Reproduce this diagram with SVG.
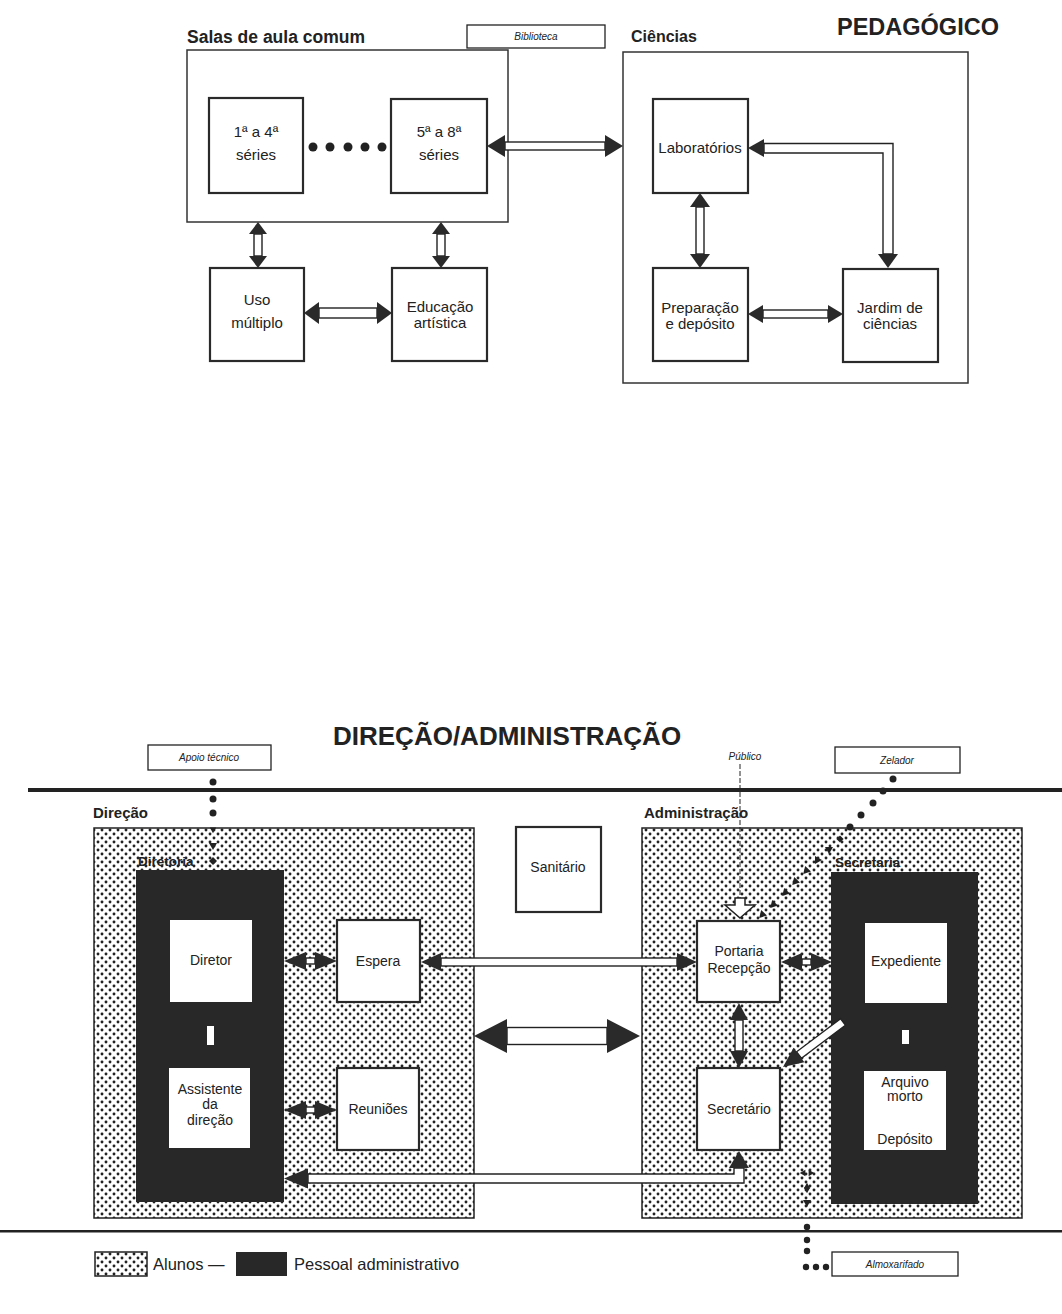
<svg xmlns="http://www.w3.org/2000/svg" width="1062" height="1314" viewBox="0 0 1062 1314">
<defs>
<pattern id="dots" width="8" height="8" patternUnits="userSpaceOnUse">
<rect width="8" height="8" fill="#fff"/>
<circle cx="2" cy="2" r="1.45" fill="#222"/>
<circle cx="6" cy="6" r="1.45" fill="#222"/>
</pattern>
<path id="tri" d="M-4,-3 L4,-3 L0,4 Z" fill="#222"/>
<path id="dia" d="M0,-4 L4,0 L0,4 L-4,0 Z" fill="#222"/>
</defs>
<style>
.t{font-family:"Liberation Sans",Arial,sans-serif;fill:#222}
.lb{font-size:15px;text-anchor:middle}
.lb2{font-size:14px;text-anchor:middle}
.hdr{font-weight:bold}
.it{font-style:italic;font-size:10px;text-anchor:middle}
.box{fill:#fff;stroke:#2a2a2a;stroke-width:2.2}
.wbox{fill:#fff}
.cont{fill:#fff;stroke:#333;stroke-width:1.5}
.dot{fill:url(#dots);stroke:#222;stroke-width:1.5}
.dark{fill:#282828}
.sh{fill:#fff;stroke:#222;stroke-width:1.4}
.hd{fill:#2a2a2a}
.tag{fill:#fff;stroke:#222;stroke-width:1.3}
.mk{fill:#222}
.ln{fill:#222}
</style>
<rect width="1062" height="1314" fill="#fff"/>

<!-- ===== PEDAGÓGICO ===== -->
<g id="titles-top">
<text x="837" y="35" class="t hdr" font-size="23.5">PEDAGÓGICO</text>
<text x="187" y="43" class="t hdr" font-size="17.5">Salas de aula comum</text>
<text x="631" y="42" class="t hdr" font-size="16">Ciências</text>
</g>
<g id="biblioteca">
<rect x="467" y="25" width="138" height="23" class="tag"/>
<text x="536" y="40" class="t it">Biblioteca</text>
</g>
<g id="salas-container"><rect x="187" y="50" width="321" height="172" class="cont"/></g>
<g id="ciencias-container"><rect x="623" y="52" width="345" height="331" class="cont"/></g>

<g id="serie-1-4">
<rect x="209" y="98" width="94" height="95" class="box"/>
<text x="256" y="137" class="t lb">1ª a 4ª</text>
<text x="256" y="160" class="t lb">séries</text>
</g>
<g id="dots-series">
<circle cx="313" cy="147" r="4.5" class="mk"/>
<circle cx="330" cy="147" r="4.5" class="mk"/>
<circle cx="348" cy="147" r="4.5" class="mk"/>
<circle cx="365" cy="147" r="4.5" class="mk"/>
<circle cx="382" cy="147" r="4.5" class="mk"/>
</g>
<g id="serie-5-8">
<rect x="391" y="99" width="96" height="94" class="box"/>
<text x="439" y="137" class="t lb">5ª a 8ª</text>
<text x="439" y="160" class="t lb">séries</text>
</g>
<g id="laboratorios">
<rect x="653" y="99" width="95" height="94" class="box"/>
<text x="700" y="153" class="t lb" font-size="15.5">Laboratórios</text>
</g>
<g id="uso-multiplo">
<rect x="210" y="268" width="94" height="93" class="box"/>
<text x="257" y="305" class="t lb">Uso</text>
<text x="257" y="328" class="t lb">múltiplo</text>
</g>
<g id="educacao-artistica">
<rect x="392" y="268" width="95" height="93" class="box"/>
<text x="440" y="312" class="t lb">Educação</text>
<text x="440" y="328" class="t lb">artística</text>
</g>
<g id="preparacao">
<rect x="653" y="268" width="95" height="93" class="box"/>
<text x="700" y="313" class="t lb">Preparação</text>
<text x="700" y="329" class="t lb">e depósito</text>
</g>
<g id="jardim">
<rect x="843" y="269" width="95" height="93" class="box"/>
<text x="890" y="313" class="t lb">Jardim de</text>
<text x="890" y="329" class="t lb">ciências</text>
</g>

<!-- ===== DIREÇÃO/ADMINISTRAÇÃO ===== -->
<g id="titles-bottom">
<text x="333" y="745" class="t hdr" font-size="26">DIREÇÃO/ADMINISTRAÇÃO</text>
<text x="93" y="818" class="t hdr" font-size="15">Direção</text>
<text x="644" y="818" class="t hdr" font-size="15">Administração</text>
</g>
<g id="rules">
<rect x="28" y="788" width="1034" height="4" class="ln"/>
<rect x="0" y="1230" width="1062" height="2.5" class="ln"/>
</g>
<g id="apoio-tecnico">
<rect x="148" y="745" width="123" height="25" class="tag"/>
<text x="209" y="761" class="t it">Apoio técnico</text>
</g>
<g id="publico"><text x="745" y="760" class="t it">Público</text></g>
<g id="zelador">
<rect x="835" y="747" width="125" height="26" class="tag"/>
<text x="897" y="764" class="t it">Zelador</text>
</g>
<g id="almoxarifado">
<rect x="832" y="1252" width="126" height="24" class="tag"/>
<text x="895" y="1268" class="t it">Almoxarifado</text>
</g>

<g id="direcao-area"><rect x="94" y="828" width="380" height="390" class="dot"/></g>
<g id="administracao-area"><rect x="642" y="828" width="380" height="390" class="dot"/></g>
<g id="sanitario">
<rect x="516" y="827" width="85" height="85" class="box"/>
<text x="558" y="872" class="t lb2" font-size="13">Sanitário</text>
</g>

<g id="diretoria">
<rect x="136" y="870" width="148" height="332" class="dark"/>
<text x="138" y="866" class="t hdr" font-size="13.5">Diretoria</text>
</g>
<g id="secretaria">
<rect x="831" y="872" width="147" height="332" class="dark"/>
<text x="835" y="867" class="t hdr" font-size="13.5">Secretaria</text>
</g>

<g id="diretor">
<rect x="170" y="920" width="82" height="82" class="wbox"/>
<text x="211" y="965" class="t lb2" font-size="13.5">Diretor</text>
</g>
<g id="assistente">
<rect x="169" y="1068" width="81" height="80" class="wbox"/>
<text x="210" y="1094" class="t lb2" font-size="13.5">Assistente</text>
<text x="210" y="1109" class="t lb2" font-size="13.5">da</text>
<text x="210" y="1125" class="t lb2" font-size="13.5">direção</text>
</g>
<g id="espera">
<rect x="337" y="920" width="83" height="82" class="box"/>
<text x="378" y="966" class="t lb2" font-size="13.5">Espera</text>
</g>
<g id="reunioes">
<rect x="337" y="1068" width="82" height="82" class="box"/>
<text x="378" y="1114" class="t lb2" font-size="13.5">Reuniões</text>
</g>
<g id="portaria">
<rect x="697" y="921" width="83" height="81" class="box"/>
<text x="739" y="956" class="t lb2" font-size="13.5">Portaria</text>
<text x="739" y="973" class="t lb2" font-size="13.5">Recepção</text>
</g>
<g id="secretario">
<rect x="697" y="1068" width="83" height="82" class="box"/>
<text x="739" y="1114" class="t lb2" font-size="13.5">Secretário</text>
</g>
<g id="expediente">
<rect x="865" y="923" width="82" height="80" class="wbox"/>
<text x="906" y="966" class="t lb2" font-size="13.5">Expediente</text>
</g>
<g id="arquivo">
<rect x="864" y="1071" width="82" height="79" class="wbox"/>
<text x="905" y="1087" class="t lb2" font-size="13.5">Arquivo</text>
<text x="905" y="1101" class="t lb2" font-size="13.5">morto</text>
<text x="905" y="1144" class="t lb2" font-size="13.5">Depósito</text>
</g>

<g id="legend">
<rect x="95" y="1252" width="52" height="24" class="dot" stroke-width="1"/>
<text x="153" y="1270" class="t" font-size="16.5">Alunos —</text>
<rect x="236" y="1252" width="51" height="24" class="dark"/>
<text x="294" y="1270" class="t" font-size="16.5">Pessoal administrativo</text>
</g>

<!-- ===== CONNECTORS ===== -->
<g id="connectors">
<rect x="505" y="142" width="100" height="8" class="sh"/>
<polygon points="487,146 505,135 505,157" class="hd"/>
<polygon points="623,146 605,135 605,157" class="hd"/>
<path d="M764,143.5 H893 V254 H883 V153 H764 Z" class="sh"/>
<polygon points="748,148 764,139 764,157" class="hd"/>
<polygon points="888,268 878,254 898,254" class="hd"/>
<rect x="254" y="234" width="8" height="22" class="sh"/>
<polygon points="258,222 249,234 267,234" class="hd"/>
<polygon points="258,268 249,256 267,256" class="hd"/>
<rect x="437" y="234" width="8" height="22" class="sh"/>
<polygon points="441,222 432,234 450,234" class="hd"/>
<polygon points="441,268 432,256 450,256" class="hd"/>
<rect x="319" y="308" width="58" height="10" class="sh"/>
<polygon points="304,313 319,302 319,324" class="hd"/>
<polygon points="392,313 377,302 377,324" class="hd"/>
<rect x="696" y="207" width="8" height="47" class="sh"/>
<polygon points="700,193 690,207 710,207" class="hd"/>
<polygon points="700,268 690,254 710,254" class="hd"/>
<rect x="763" y="310" width="65" height="8" class="sh"/>
<polygon points="748,314 763,305 763,323" class="hd"/>
<polygon points="843,314 828,305 828,323" class="hd"/>

<rect x="441" y="958" width="236" height="8" class="sh"/>
<polygon points="421,962 441,953 441,971" class="hd"/>
<polygon points="697,962 677,953 677,971" class="hd"/>
<rect x="507" y="1027.5" width="100" height="17" class="sh"/>
<polygon points="474,1036 507,1019 507,1053" class="hd"/>
<polygon points="640,1036 607,1019 607,1053" class="hd"/>
<rect x="306" y="958" width="9" height="6" class="sh"/>
<polygon points="284,961 306,952 306,970" class="hd"/>
<polygon points="337,961 315,952 315,970" class="hd"/>
<rect x="306" y="1107" width="9" height="6" class="sh"/>
<polygon points="284,1110 306,1101 306,1119" class="hd"/>
<polygon points="337,1110 315,1101 315,1119" class="hd"/>
<rect x="802" y="959" width="9" height="6" class="sh"/>
<polygon points="781,962 802,953 802,971" class="hd"/>
<polygon points="832,962 811,953 811,971" class="hd"/>
<rect x="735" y="1020" width="8" height="31" class="sh"/>
<polygon points="739,1003 730,1020 748,1020" class="hd"/>
<polygon points="739,1068 730,1051 748,1051" class="hd"/>
<polygon points="840.6,1018.8 845.4,1025.2 801.4,1058.2 796.6,1051.8" class="sh"/>
<polygon points="783,1067 804.4,1062.2 793.6,1047.8" class="hd"/>
<path d="M308,1174 H734 V1168 H744 V1183 H308 Z" class="sh"/>
<polygon points="284,1178.5 308,1168.5 308,1188.5" class="hd"/>
<polygon points="739,1151 729,1168 749,1168" class="hd"/>
<rect x="207" y="1026" width="7" height="19" fill="#fff"/>
<rect x="902" y="1030" width="7" height="14" fill="#fff"/>
<line x1="740" y1="764" x2="740" y2="898" stroke="#222" stroke-width="1" stroke-dasharray="5 2"/>
<polygon points="735,898 745,898 745,905 755,905 740,918 725,905 735,905" fill="#fff" stroke="#222" stroke-width="1.5"/>
<circle cx="213" cy="782" r="3.5" class="mk"/>
<circle cx="213" cy="799" r="3.5" class="mk"/>
<circle cx="213" cy="813" r="3.5" class="mk"/>
<use href="#tri" transform="translate(213,830) scale(0.8)"/>
<use href="#tri" transform="translate(213,846)"/>
<use href="#dia" transform="translate(213,861)"/>
<circle cx="893" cy="779" r="3.5" class="mk"/>
<circle cx="883" cy="791" r="3.5" class="mk"/>
<circle cx="873" cy="803" r="3.5" class="mk"/>
<circle cx="861" cy="815" r="3.5" class="mk"/>
<circle cx="850" cy="827" r="3.5" class="mk"/>
<use href="#dia" transform="translate(840,839) scale(0.9)"/>
<use href="#tri" transform="translate(829,850)"/>
<use href="#tri" transform="translate(818,860) rotate(-90)"/>
<use href="#tri" transform="translate(806,871) rotate(44)"/>
<use href="#tri" transform="translate(795,882) rotate(44)"/>
<use href="#tri" transform="translate(785,893) rotate(44)"/>
<use href="#tri" transform="translate(773,905) rotate(44)"/>
<use href="#tri" transform="translate(762,915) rotate(44)"/>
<use href="#tri" transform="translate(803,1173) rotate(90) scale(0.8)"/>
<use href="#tri" transform="translate(811,1173) rotate(-90) scale(0.8)"/>
<use href="#tri" transform="translate(807,1186) rotate(180) scale(0.8)"/>
<use href="#tri" transform="translate(807,1190) scale(0.8)"/>
<use href="#tri" transform="translate(807,1203)"/>
<circle cx="807" cy="1227" r="3.2" class="mk"/>
<circle cx="807" cy="1240" r="3.2" class="mk"/>
<circle cx="807" cy="1251" r="3.2" class="mk"/>
<circle cx="806" cy="1267" r="3.2" class="mk"/>
<circle cx="816" cy="1267" r="3.2" class="mk"/>
<circle cx="826" cy="1267" r="3.2" class="mk"/>
</g>
</svg>
